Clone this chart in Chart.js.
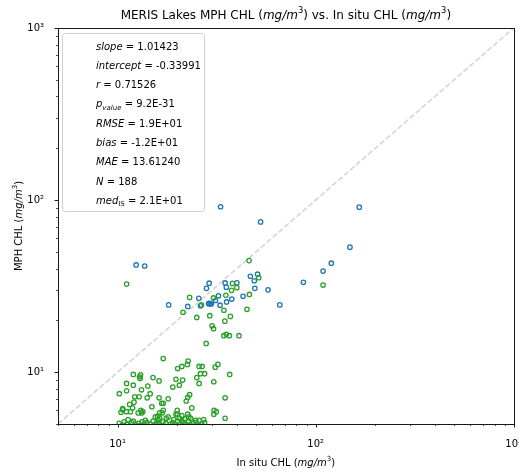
<!DOCTYPE html>
<html>
<head>
<meta charset="utf-8">
<script src="https://cdn.jsdelivr.net/npm/chart.js@4.4.1/dist/chart.umd.min.js"></script>
<style>
  body { margin: 0; background: #fff; }
  canvas { display: block; }
</style>
</head>
<body>
<canvas id="chl" width="519" height="473"></canvas>
<script>
// MERIS MPH chlorophyll against in situ chlorophyll, both in mg/m3
const blueInSitu = [12.4, 13.7, 33.1, 52.7, 166, 149, 120, 109, 86.7, 65.9, 57.5, 50.9, 46.8, 49.0, 49.3, 43.0, 37.7,
  40.0, 34.9, 29.0, 28.1, 35.4, 25.7, 32.3, 31.2, 29.0, 29.7, 29.4, 26.2, 32.9, 35.5, 22.6, 18.1, 28.8];
const blueMph = [42.0, 41.4, 91.5, 74.7, 91.0, 53.3, 43.0, 38.7, 33.3, 24.6, 30.1, 37.1, 36.1, 34.0, 30.7, 27.6, 26.6,
  33.1, 33.0, 32.9, 30.7, 31.2, 26.9, 27.8, 26.1, 25.1, 24.9, 25.0, 24.3, 24.5, 25.6, 24.1, 24.6, 25.0];

const greenInSitu = [
  11.1, 46.1, 51.6, 109, 38.0, 40.0, 37.6, 46.3, 45.0, 23.1, 30.5, 35.2, 26.5, 21.4, 34.4, 25.1, 29.2, 37.1, 34.8,
  30.0, 30.5, 34.4, 35.4, 36.7, 41.0, 28.0,
  17.0, 22.7, 22.5, 21.1, 20.1, 25.8, 26.7, 32.1, 31.1, 12.0, 13.05, 12.9, 13.0, 15.1, 16.2, 19.7, 21.3, 26.2, 27.5,
  25.1, 25.8, 30.6, 36.8, 11.1, 12.0, 14.2, 10.2, 11.1, 12.2, 12.85, 13.2, 14.6, 14.1, 14.9, 16.7, 17.0, 16.2, 18.0,
  19.0, 20.5, 22.6, 23.1, 22.2, 23.7, 20.0, 34.9, 30.7, 31.5, 30.6, 34.9, 11.5, 12.1, 11.9, 12.7, 13.1, 13.2, 13.4,
  10.4, 10.6, 10.6, 11.1, 11.6, 16.3, 16.8, 17.0, 18.0, 15.5, 15.9, 16.3, 17.6, 22.9, 23.4, 24.8, 25.8, 27.2, 20.5,
  21.1, 19.7, 20.1, 22.6, 21.1,
  10.2, 10.5, 10.8, 11.1, 11.5, 11.8, 12.0, 12.4, 12.75, 13.0, 13.3, 13.6, 14.05, 14.3, 14.6, 15.1, 15.5, 15.8,
  16.2, 16.7, 17.0, 17.5, 18.0, 18.55, 19.0, 19.5, 20.1, 20.65, 21.05, 21.45, 22.1, 22.7, 23.3, 24.1, 24.9, 25.65,
  26.55, 11.3, 13.8, 16.0, 19.2, 21.8, 27.5];
const greenMph = [
  32.5, 44.5, 35.4, 32.1, 32.8, 31.0, 29.9, 28.3, 23.2, 27.2, 27.0, 28.0, 24.6, 22.3, 22.9, 20.8, 21.3, 21.1, 19.8,
  18.6, 17.9, 16.3, 16.6, 16.3, 16.3, 14.7,
  12.0, 11.6, 11.1, 10.8, 10.5, 10.8, 10.8, 11.1, 10.7, 9.7, 9.65, 9.4, 9.2, 9.3, 8.9, 9.1, 9.0, 9.8, 9.8,
  9.3, 8.6, 8.8, 9.7, 8.6, 8.4, 8.3, 7.5, 7.8, 7.2, 7.2, 7.9, 7.5, 7.1, 6.3, 6.6, 6.6, 7.1, 7.0,
  8.2, 8.4, 7.15, 7.4, 6.8, 6.2, 6.0, 7.1, 6.0, 5.9, 5.7, 5.4, 6.5, 6.7, 6.2, 5.8, 6.0, 5.8, 5.9,
  5.85, 6.05, 6.15, 5.9, 5.9, 5.8, 5.8, 6.0, 5.5, 5.5, 5.55, 5.4, 5.4, 5.5, 5.4, 5.25, 5.25, 5.3, 5.4,
  5.25, 5.7, 5.7, 5.7, 5.6,
  5.05, 4.9, 5.15, 5.0, 4.85, 5.1, 5.2, 4.95, 5.05, 4.9, 5.15, 5.0, 5.1, 4.85, 5.0, 5.2, 4.95, 5.1,
  5.0, 4.9, 5.15, 5.05, 4.85, 5.0, 5.1, 4.95, 5.2, 5.0, 4.9, 5.1, 5.0, 5.15, 4.95, 5.05, 5.1, 4.95,
  5.0, 5.3, 5.25, 5.3, 5.3, 5.35, 5.1];

const axisMin = 5;
const axisMax = 1000;
const majorTicks = [10, 100, 1000];
const minorTicks = [5, 6, 7, 8, 9, 20, 30, 40, 50, 60, 70, 80, 90, 200, 300, 400, 500, 600, 700, 800, 900];
const tickText = { 10: '10¹', 100: '10²', 1000: '10³' };

const statNames = ['slope', 'intercept', 'r', 'p', 'RMSE', 'bias', 'MAE', 'N', 'med'];
const statSubs = ['', '', '', 'value', '', '', '', '', 'IS'];
const statValues = ['1.01423', '-0.33991', '0.71526', '9.2E-31', '1.9E+01', '-1.2E+01', '13.61240', '188', '2.1E+01'];

const FONT = '"DejaVu Sans", sans-serif';
const f = (size, style) => (style ? style + ' ' : '') + size + 'px ' + FONT;

function toPoints(xs, ys) {
  return xs.map((x, i) => ({ x: x, y: ys[i] }));
}

// draws a row of differently styled text pieces one after another
function drawRuns(ctx, runs, x, y, align) {
  let total = 0;
  runs.forEach(r => { ctx.font = r.font; r.w = ctx.measureText(r.t).width; total += r.w; });
  let cx = align === 'center' ? x - total / 2 : x;
  runs.forEach(r => {
    ctx.font = r.font;
    ctx.fillText(r.t, cx, y + (r.dy || 0));
    cx += r.w;
  });
}

function unitRuns(size) {
  return [
    { t: '(', font: f(size) },
    { t: 'mg/m', font: f(size, 'italic') },
    { t: '3', font: f(size * 0.7), dy: -size * 0.42 },
    { t: ')', font: f(size) }
  ];
}

const decorations = {
  id: 'decorations',
  afterDatasetsDraw(chart) {
    const ctx = chart.ctx;
    const area = chart.chartArea;
    const xs = chart.scales.x, ys = chart.scales.y;
    ctx.save();

    // frame
    ctx.strokeStyle = '#000';
    ctx.lineWidth = 0.9;
    ctx.strokeRect(Math.round(area.left) + 0.5, Math.round(area.top) + 0.5,
      Math.round(area.right - area.left), Math.round(area.bottom - area.top));

    // tick marks, outside the frame
    const marks = (vals, len, w) => {
      ctx.lineWidth = w;
      ctx.beginPath();
      vals.forEach(v => {
        const px = Math.round(xs.getPixelForValue(v)) + 0.5;
        ctx.moveTo(px, area.bottom);
        ctx.lineTo(px, area.bottom + len);
        const py = Math.round(ys.getPixelForValue(v)) + 0.5;
        ctx.moveTo(area.left, py);
        ctx.lineTo(area.left - len, py);
      });
      ctx.stroke();
    };
    marks(majorTicks, 3.5, 0.9);
    marks(minorTicks, 2, 0.7);

    // statistics box
    const bx = 62.5, by = 33.5, bw = 142, bh = 178;
    ctx.beginPath();
    ctx.roundRect(bx, by, bw, bh, 3);
    ctx.fillStyle = 'rgba(255,255,255,0.8)';
    ctx.fill();
    ctx.strokeStyle = '#d0d0d0';
    ctx.lineWidth = 1;
    ctx.stroke();

    ctx.fillStyle = '#000';
    ctx.textBaseline = 'alphabetic';
    statNames.forEach((name, i) => {
      const y = 49.5 + i * 19.3;
      const runs = [{ t: name, font: f(10, 'italic') }];
      if (statSubs[i]) {
        runs.push({ t: statSubs[i], font: f(7, i === 3 ? 'italic' : ''), dy: 2.5 });
      }
      runs.push({ t: ' = ' + statValues[i], font: f(10) });
      drawRuns(ctx, runs, 96, y, 'left');
    });
    ctx.restore();
  },
  afterDraw(chart) {
    const ctx = chart.ctx;
    const area = chart.chartArea;
    const mid = (area.left + area.right) / 2;
    ctx.save();
    ctx.fillStyle = '#000';
    ctx.textBaseline = 'alphabetic';

    drawRuns(ctx, [{ t: 'MERIS Lakes MPH CHL ', font: f(12) }]
      .concat(unitRuns(12))
      .concat([{ t: ' vs. In situ CHL ', font: f(12) }])
      .concat(unitRuns(12)), mid, 18.5, 'center');

    drawRuns(ctx, [{ t: 'In situ CHL ', font: f(10) }].concat(unitRuns(10)), mid, 465.5, 'center');

    ctx.translate(21.5, (area.top + area.bottom) / 2);
    ctx.rotate(-Math.PI / 2);
    drawRuns(ctx, [{ t: 'MPH CHL ', font: f(10) }].concat(unitRuns(10)), 0, 0, 'center');
    ctx.restore();
  }
};

const allTicks = minorTicks.concat(majorTicks).sort((a, b) => a - b);

function logAxis(horizontal) {
  return {
    type: 'logarithmic',
    min: axisMin,
    max: axisMax,
    grid: { display: false },
    border: { display: false },
    ticks: {
      autoSkip: false,
      maxRotation: 0,
      padding: horizontal ? 6 : 6,
      color: '#000',
      font: { family: FONT, size: 10 },
      callback: v => tickText[v] || ''
    },
    afterBuildTicks: scale => {
      scale.ticks = allTicks.map(v => ({ value: v, major: majorTicks.includes(v) }));
    },
    afterFit: scale => {
      if (horizontal) {
        scale.height = 49;
        scale.paddingLeft = 0;
        scale.paddingRight = 0;
      } else {
        scale.width = 58;
        scale.paddingTop = 0;
        scale.paddingBottom = 0;
      }
    }
  };
}

new Chart(document.getElementById('chl'), {
  type: 'scatter',
  data: {
    datasets: [
      {
        label: 'matchups',
        data: toPoints(blueInSitu, blueMph),
        borderColor: '#1f77b4',
        backgroundColor: 'rgba(0,0,0,0)',
        pointRadius: 2.2,
        borderWidth: 1.3,
        clip: 0,
        order: 2
      },
      {
        label: 'flagged',
        data: toPoints(greenInSitu, greenMph),
        borderColor: '#2ca02c',
        backgroundColor: 'rgba(0,0,0,0)',
        pointRadius: 2.2,
        borderWidth: 1.3,
        clip: 0,
        order: 1
      },
      {
        type: 'line',
        label: '1:1',
        data: [{ x: axisMin, y: axisMin }, { x: axisMax, y: axisMax }],
        borderColor: '#d3d3d3',
        borderWidth: 1.5,
        borderDash: [5.5, 2.4],
        pointRadius: 0,
        clip: 0,
        order: 3
      }
    ]
  },
  options: {
    responsive: false,
    animation: false,
    devicePixelRatio: 1,
    events: [],
    layout: { padding: { top: 28, right: 3, left: 0, bottom: 0 } },
    plugins: { legend: { display: false }, tooltip: { enabled: false } },
    scales: { x: logAxis(true), y: logAxis(false) }
  },
  plugins: [decorations]
});
</script>
</body>
</html>
